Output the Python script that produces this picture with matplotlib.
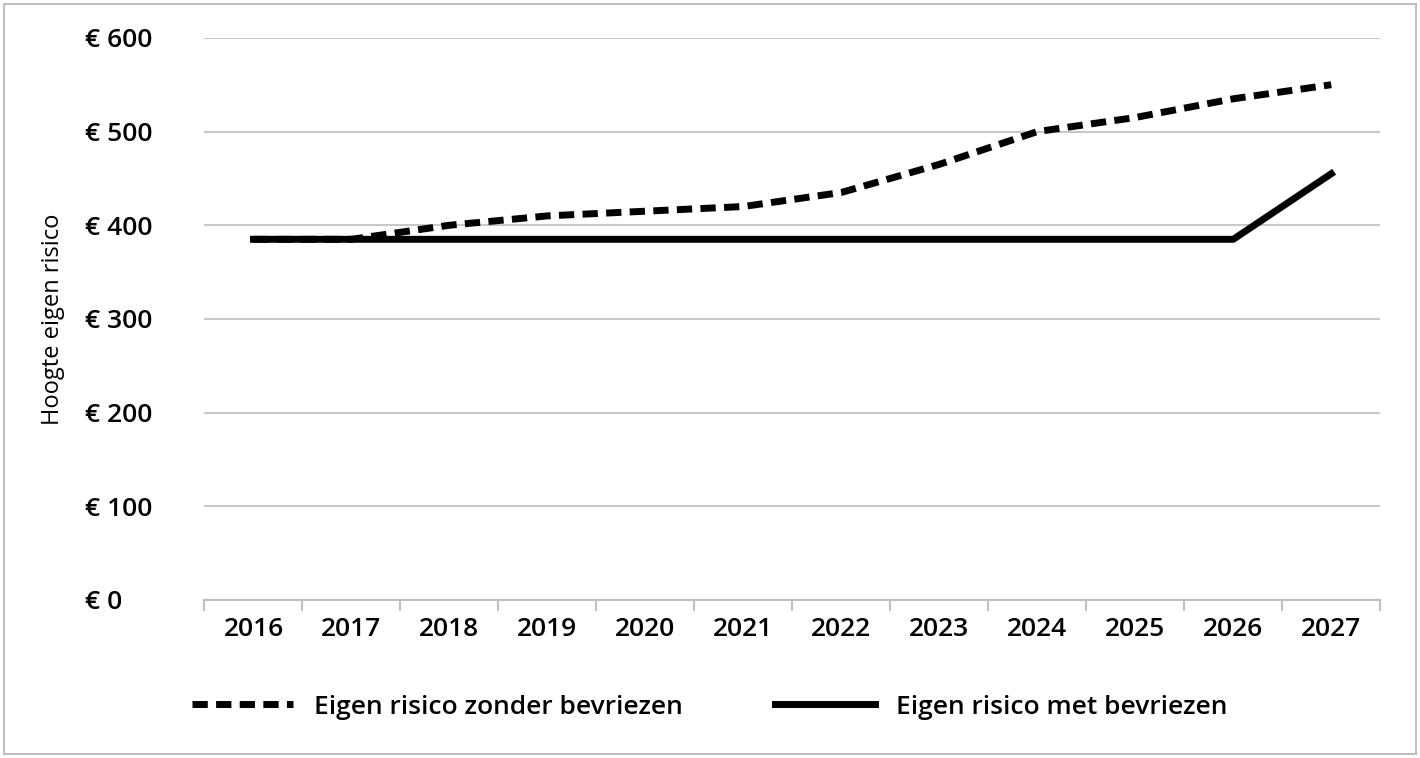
import matplotlib
matplotlib.use("Agg")
import matplotlib.pyplot as plt
from matplotlib.patches import Rectangle

years = ["2016","2017","2018","2019","2020","2021","2022","2023","2024","2025","2026","2027"]
zonder = [385, 385, 400, 410, 415, 420, 435, 465, 500, 515, 535, 550]
met = [385, 385, 385, 385, 385, 385, 385, 385, 385, 385, 385, 455]
yticks = [0, 100, 200, 300, 400, 500, 600]

plt.rcParams["font.family"] = ["Open Sans", "DejaVu Sans"]
fs = 19
fig = plt.figure(figsize=(14.2, 7.58), dpi=100)
fig.patches.append(Rectangle((0.003, 0.005), 0.994, 0.99, transform=fig.transFigure,
                             fill=False, edgecolor="#bfbfbf", linewidth=1.5))
ax = fig.add_axes([0.144, 0.2085, 0.828, 0.7415])
x = list(range(len(years)))
l1, = ax.plot(x, zonder, color="black", lw=5, ls=(0, (2.2, 1.2)), label="Eigen risico zonder bevriezen")
l2, = ax.plot(x, met, color="black", lw=5, label="Eigen risico met bevriezen")
ax.set_xlim(-0.5, len(years) - 0.5)
ax.set_ylim(0, 600)
ax.set_yticks(yticks)
ax.set_yticklabels([f"€ {v}" for v in yticks], fontsize=fs, fontweight="semibold")
ax.set_xticks(x)
ax.set_xticklabels(years, fontsize=fs, fontweight="semibold")
ax.set_xticks([i - 0.5 for i in range(len(years) + 1)], minor=True)
ax.tick_params(axis="x", which="major", length=0, pad=12)
ax.tick_params(axis="x", which="minor", length=8, color="#bfbfbf", width=1.5)
ax.tick_params(axis="y", length=0, pad=86)
for lab in ax.get_yticklabels():
    lab.set_horizontalalignment("left")
ax.yaxis.grid(True, color="#c8c8c8", lw=1.5)
ax.set_axisbelow(True)
for s in ["top", "right", "left"]:
    ax.spines[s].set_visible(False)
ax.spines["bottom"].set_color("#bfbfbf")
ax.spines["bottom"].set_linewidth(1.5)
ax.set_ylabel("Hoogte eigen risico", fontsize=17)
ax.yaxis.set_label_coords(-0.119, 0.5)
fig.legend(handles=[l1, l2], loc="center", bbox_to_anchor=(0.5, 0.067), ncol=2,
           frameon=False, prop={"size": fs, "weight": "semibold"},
           handlelength=3.8, columnspacing=3.5)
fig.savefig("out.png", dpi=100)
